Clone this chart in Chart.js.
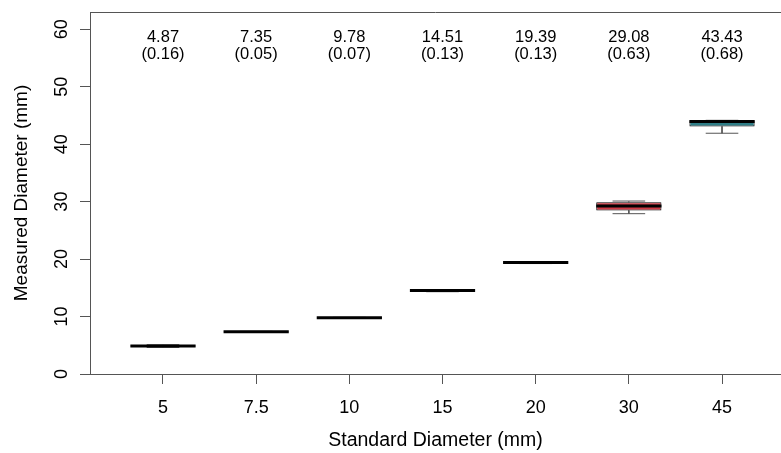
<!DOCTYPE html>
<html>
<head>
<meta charset="utf-8">
<script src="https://cdn.jsdelivr.net/npm/chart.js@4.4.1/dist/chart.umd.min.js"></script>
<style>
  html, body { margin: 0; padding: 0; background: #fff; overflow: hidden; }
  canvas { display: block; }
</style>
</head>
<body>
<canvas id="boxChart" width="781" height="453"></canvas>
<script>
// categories (standard diameter, mm)
const categories = ['5', '7.5', '10', '15', '20', '30', '45'];
// mean and sd printed above each box
const means = [4.87, 7.35, 9.78, 14.51, 19.39, 29.08, 43.43];
const sds = [0.16, 0.05, 0.07, 0.13, 0.13, 0.63, 0.68];
// box plot stats
const lowWhisker = [4.62, 7.28, 9.70, 14.32, 19.22, 27.90, 41.90];
const q1 = [4.78, 7.32, 9.74, 14.45, 19.34, 28.47, 43.08];
const medians = [4.88, 7.36, 9.78, 14.52, 19.40, 29.22, 43.95];
const q3 = [4.97, 7.39, 9.82, 14.60, 19.45, 29.87, 44.15];
const highWhisker = [5.10, 7.42, 9.86, 14.65, 19.50, 30.10, 44.15];
const yTicks = [0, 10, 20, 30, 40, 50, 60];
const boxColors = ['#444444', '#444444', '#444444', '#444444', '#444444', '#cd3a45', '#2e7d86'];

const FONT = '"Liberation Sans", Arial, sans-serif';

// helpers to build the line datasets (null points break the line)
function segments(fn) {
    const pts = [];
    categories.forEach((c, i) => {
        fn(i + 1, i).forEach(p => pts.push(p));
        pts.push({ x: i + 1, y: null });
    });
    return pts;
}

const boxData = categories.map((c, i) => ({ x: i + 1, y: [q1[i], q3[i]] }));
const medianData = segments((x, i) => [{ x: x - 0.35, y: medians[i] }, { x: x + 0.35, y: medians[i] }]);
const whiskerData = segments((x, i) => [{ x: x, y: q3[i] }, { x: x, y: highWhisker[i] }, { x: x, y: null },
                                        { x: x, y: q1[i] }, { x: x, y: lowWhisker[i] }]);
const stapleData = segments((x, i) => [{ x: x - 0.175, y: highWhisker[i] }, { x: x + 0.175, y: highWhisker[i] }, { x: x, y: null },
                                       { x: x - 0.175, y: lowWhisker[i] }, { x: x + 0.175, y: lowWhisker[i] }]);

// top frame line + mean/sd labels
const extras = {
    id: 'extras',
    afterDraw(chart) {
        const { ctx, chartArea, scales } = chart;
        ctx.save();
        ctx.strokeStyle = '#555';
        ctx.lineWidth = 1;
        ctx.beginPath();
        ctx.moveTo(chartArea.left, chartArea.top + 0.5);
        ctx.lineTo(chartArea.right, chartArea.top + 0.5);
        ctx.stroke();

        ctx.fillStyle = '#000';
        ctx.font = '16.5px ' + FONT;
        ctx.textAlign = 'center';
        ctx.textBaseline = 'middle';
        categories.forEach((c, i) => {
            const x = scales.x.getPixelForValue(i + 1);
            ctx.fillText(means[i].toFixed(2), x, scales.y.getPixelForValue(58.6));
            ctx.fillText('(' + sds[i].toFixed(2) + ')', x, scales.y.getPixelForValue(55.6));
        });
        ctx.restore();
    }
};

new Chart(document.getElementById('boxChart'), {
    type: 'bar',
    data: {
        datasets: [
            {
                type: 'line',
                data: whiskerData,
                borderColor: '#555',
                borderWidth: 1,
                pointRadius: 0,
                spanGaps: false,
                order: 3
            },
            {
                type: 'line',
                data: stapleData,
                borderColor: '#555',
                borderWidth: 1,
                pointRadius: 0,
                spanGaps: false,
                order: 3
            },
            {
                type: 'bar',
                data: boxData,
                backgroundColor: boxColors,
                borderColor: '#000',
                borderWidth: 1,
                borderSkipped: false,
                barPercentage: 0.7,
                categoryPercentage: 1,
                order: 2
            },
            {
                type: 'line',
                data: medianData,
                borderColor: '#000',
                borderWidth: 3,
                pointRadius: 0,
                spanGaps: false,
                order: 1
            }
        ]
    },
    options: {
        responsive: false,
        animation: false,
        devicePixelRatio: 1,
        layout: { padding: { top: 12, right: 0, bottom: 0, left: 0 } },
        plugins: {
            legend: { display: false },
            tooltip: { enabled: false }
        },
        scales: {
            x: {
                type: 'linear',
                offset: false,
                min: 0.2165,
                max: 7.633,
                afterBuildTicks: scale => { scale.ticks = categories.map((c, i) => ({ value: i + 1 })); },
                afterFit: scale => {
                    scale.height = 79;
                    scale.paddingLeft = 0;
                    scale.paddingRight = 0;
                },
                ticks: {
                    callback: (v) => categories[v - 1],
                    color: '#000',
                    font: { family: FONT, size: 18 },
                    padding: 13,
                    maxRotation: 0,
                    autoSkip: false
                },
                grid: { display: true, offset: false, drawOnChartArea: false, drawTicks: true, tickLength: 10, color: '#555' },
                border: { display: true, color: '#555' },
                title: {
                    display: true,
                    text: 'Standard Diameter (mm)',
                    color: '#000',
                    font: { family: FONT, size: 19.5 },
                    padding: { top: 0, bottom: 1 }
                }
            },
            y: {
                min: 0,
                max: 63,
                afterBuildTicks: scale => { scale.ticks = yTicks.map(v => ({ value: v })); },
                afterFit: scale => {
                    scale.width = 90;
                    scale.paddingTop = 0;
                    scale.paddingBottom = 0;
                },
                ticks: {
                    color: '#000',
                    font: { family: FONT, size: 18 },
                    minRotation: 90,
                    maxRotation: 90,
                    crossAlign: 'center',
                    padding: 8
                },
                grid: { display: true, drawOnChartArea: false, drawTicks: true, tickLength: 10, color: '#555' },
                border: { display: true, color: '#555' },
                title: {
                    display: true,
                    text: 'Measured Diameter (mm)',
                    color: '#000',
                    font: { family: FONT, size: 19 },
                    padding: { top: 10, bottom: 0 }
                }
            }
        }
    },
    plugins: [extras]
});
</script>
</body>
</html>
